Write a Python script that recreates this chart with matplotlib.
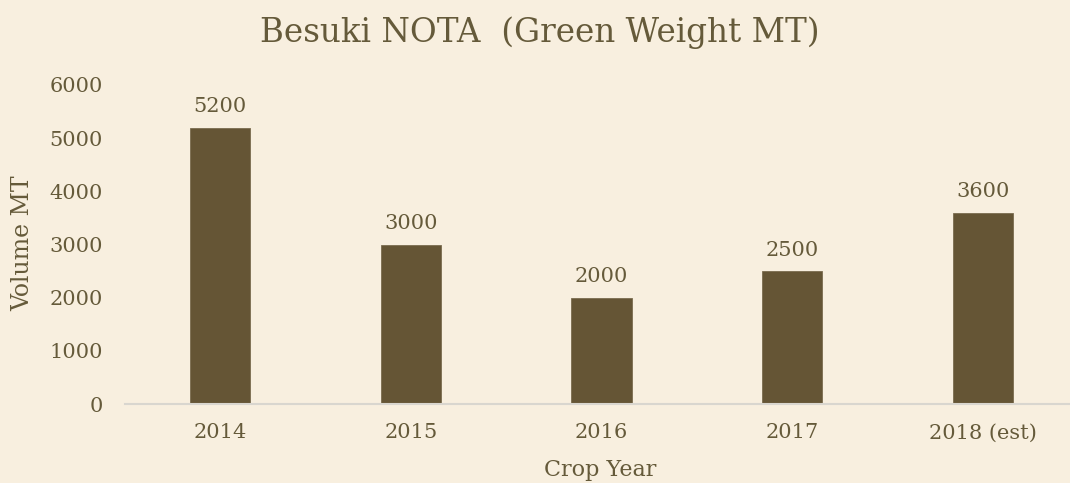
import matplotlib
matplotlib.use("Agg")
import matplotlib.pyplot as plt

categories = ["2014", "2015", "2016", "2017", "2018 (est)"]
values = [5200, 3000, 2000, 2500, 3600]
yticks = [0, 1000, 2000, 3000, 4000, 5000, 6000]

BG = "#F8EFDF"
BAR = "#655535"
TXT = "#655A3A"
FONT = "DejaVu Serif"

W, H = 1070, 483
fig = plt.figure(figsize=(W / 100, H / 100), dpi=100, facecolor=BG)
left, right = 125, 1078
bottom, top = 404, 85
ax = fig.add_axes([left / W, 1 - bottom / H, (right - left) / W, (bottom - top) / H])
ax.set_facecolor(BG)

x = list(range(len(categories)))
ax.bar(x, values, width=0.315, color=BAR, edgecolor="#7a6c4f", linewidth=0.6, zorder=2)
for xi, v in zip(x, values):
    ax.annotate(f"{v}", (xi, v), xytext=(0, 15), textcoords="offset points",
                ha="center", va="center", fontsize=15, color=TXT, family=FONT)

ax.set_xlim(-0.5, 4.5)
ax.set_ylim(0, 6000)
ax.set_yticks(yticks)
ax.set_xticks(x)
ax.set_xticklabels(categories)
for s in ["top", "right", "left"]:
    ax.spines[s].set_visible(False)
ax.spines["bottom"].set_color("#d9d6cf")
ax.spines["bottom"].set_linewidth(1.5)
ax.tick_params(axis="both", length=0, labelsize=15, labelcolor=TXT)
ax.tick_params(axis="x", pad=14)
ax.tick_params(axis="y", pad=16)
for lab in ax.get_xticklabels() + ax.get_yticklabels():
    lab.set_family(FONT)
fig.text(600 / W, 1 - 470 / H, "Crop Year", ha="center", va="center",
         fontsize=16, color=TXT, family=FONT)
fig.text(23 / W, 1 - 243 / H, "Volume MT", ha="center", va="center", rotation=90,
         fontsize=17, color=TXT, family=FONT)
fig.text(540 / W, 1 - 33 / H, "Besuki NOTA  (Green Weight MT)", ha="center", va="center",
         fontsize=23.5, color=TXT, family=FONT)

fig.savefig("out.png", dpi=100, facecolor=BG)
